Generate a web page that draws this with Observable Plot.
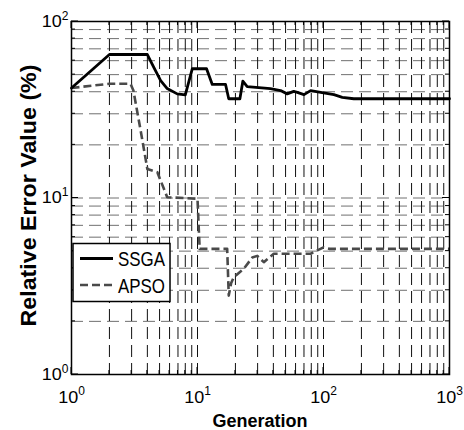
<!DOCTYPE html>
<html><head><meta charset="utf-8">
<script src="https://cdn.jsdelivr.net/npm/d3@7"></script>
<script src="https://cdn.jsdelivr.net/npm/@observablehq/plot@0.6"></script>
<style>body{margin:0;background:#fff;} #chart{width:464px;height:430px;}</style>
</head><body><div id="chart"></div>
<script>
// ---- data ----
const ssgaGen = [1, 2, 4, 4.5, 5.1, 5.75, 6.9, 8.0, 9.1, 11.8, 13.1, 16.7, 17.7, 21.7, 22.9, 24.8, 37.9, 45.6, 51.5, 58.1, 62, 70, 79, 95, 121, 141, 174, 1000];
const ssgaErr = [42, 65, 65, 55, 46.3, 41.7, 38.9, 38.4, 54, 54, 44, 44, 36.5, 36.5, 45.9, 42.8, 41.6, 40.6, 38.9, 40.2, 39.7, 38.5, 40.6, 39.7, 38.5, 37.2, 36.5, 36.5];
const apsoGen = [1, 2, 2.94, 3.1, 3.5, 4.0, 4.8, 5.75, 10, 10.4, 17.2, 17.7, 18.5, 19.4, 23.3, 27.2, 29.8, 33.6, 40.3, 79, 100, 112, 1000];
const apsoErr = [42, 44.4, 44.4, 40.6, 25.2, 14.6, 14.0, 10.1, 9.9, 5.15, 5.15, 2.8, 3.3, 3.56, 3.97, 4.6, 4.7, 4.33, 4.83, 4.83, 5.25, 5.15, 5.15];
const seriesNames = ["SSGA", "APSO"];
const xTickValues = [1, 10, 100, 1000];
const xTickExp = ["0", "1", "2", "3"];
const yTickValues = [1, 10, 100];
const yTickExp = ["0", "1", "2"];
const xGrid = [1,2,3,4,5,6,7,8,9,10,20,30,40,50,60,70,80,90,100,200,300,400,500,600,700,800,900,1000];
const yGrid = [1,2,3,4,5,6,7,8,9,10,20,30,40,50,60,70,80,90,100];
const xTitle = "Generation";
const yTitle = "Relative Error Value (%)";

const ssga = ssgaGen.map((g, i) => ({gen: g, err: ssgaErr[i]}));
const apso = apsoGen.map((g, i) => ({gen: g, err: apsoErr[i]}));
const xLab = new Map(xTickValues.map((v, i) => [v, "10^" + xTickExp[i]]));
const yLab = new Map(yTickValues.map((v, i) => [v, "10^" + yTickExp[i]]));
const FONT = "'Liberation Sans', Arial, sans-serif";

const plot = Plot.plot({
  width: 464, height: 430,
  marginTop: 21, marginRight: 15, marginBottom: 56, marginLeft: 71,
  x: {type: "log", domain: [1, 1000]},
  y: {type: "log", domain: [1, 100]},
  style: {fontFamily: FONT, fontSize: "17px", background: "#fff", color: "#000", overflow: "visible"},
  marks: [
    Plot.ruleY(yGrid.slice(1, -1), {y: d => d, stroke: "#707070", strokeWidth: 1, strokeDasharray: "12,6"}),
    Plot.ruleX(xGrid.slice(1, -1), {x: d => d, stroke: "#111", strokeWidth: 1, strokeDasharray: "12,6"}),
    Plot.line(apso, {x: "gen", y: "err", stroke: "#4a4a4a", strokeWidth: 2.6, strokeDasharray: "8,4", strokeLinejoin: "round", strokeLinecap: "butt"}),
    Plot.line(ssga, {x: "gen", y: "err", stroke: "#000", strokeWidth: 2.8, strokeLinejoin: "round"}),
    Plot.frame({stroke: "#000", strokeWidth: 1.5}),
    Plot.axisX(xTickValues, {anchor: "bottom", tickSize: 0, tickPadding: 16, tickFormat: d => xLab.get(d), label: null}),
    Plot.axisY(yTickValues, {anchor: "left", tickSize: 0, tickPadding: 3, tickFormat: d => yLab.get(d), label: null})
  ]
});
document.getElementById("chart").appendChild(plot);

const svg = d3.select(plot);
const sx = v => plot.scale("x").apply(v);
const sy = v => plot.scale("y").apply(v);
const [x0, x1] = [sx(1), sx(1000)];
const [y0, y1] = [sy(100), sy(1)];

// superscript exponents, tick label font
svg.selectAll('g[aria-label="x-axis tick label"], g[aria-label="y-axis tick label"]')
  .attr("font-size", 17).style("font-size", "17px").attr("font-family", FONT);
svg.selectAll('g[aria-label="x-axis tick label"] text, g[aria-label="y-axis tick label"] text').each(function () {
  const s = this.textContent;
  const [base, exp] = s.split("^");
  const t = d3.select(this);
  t.selectAll("*").remove();
  t.text(null);
  t.style("font-size", "17px");
  t.append("tspan").attr("textLength", 20).attr("lengthAdjust", "spacingAndGlyphs").text(base);
  t.append("tspan").attr("dy", "-0.6em").style("font-size", "12px").text(exp);
});

// inward ticks on all four sides
const tg = svg.append("g").attr("stroke", "#000").attr("stroke-width", 1);
xGrid.forEach(v => {
  const len = xTickValues.includes(v) ? 7 : 4;
  const X = sx(v);
  tg.append("line").attr("x1", X).attr("x2", X).attr("y1", y1).attr("y2", y1 - len);
  tg.append("line").attr("x1", X).attr("x2", X).attr("y1", y0).attr("y2", y0 + len);
});
yGrid.forEach(v => {
  const len = yTickValues.includes(v) ? 7 : 4;
  const Y = sy(v);
  tg.append("line").attr("y1", Y).attr("y2", Y).attr("x1", x0).attr("x2", x0 + len);
  tg.append("line").attr("y1", Y).attr("y2", Y).attr("x1", x1).attr("x2", x1 - len);
});

// axis titles
svg.append("text").attr("x", (x0 + x1) / 2).attr("y", 427).attr("text-anchor", "middle")
  .attr("font-weight", "bold").style("font-size", "18px").attr("textLength", 95).attr("lengthAdjust", "spacingAndGlyphs")
  .attr("font-family", FONT).text(xTitle);
svg.append("text").attr("transform", `translate(36,${(y0 + y1) / 2 - 2}) rotate(-90)`).attr("text-anchor", "middle")
  .attr("font-weight", "bold").style("font-size", "22px").attr("textLength", 262).attr("lengthAdjust", "spacingAndGlyphs")
  .attr("font-family", FONT).text(yTitle);

// legend
const lg = svg.append("g");
lg.append("rect").attr("x", 73).attr("y", 243.5).attr("width", 97).attr("height", 58)
  .attr("fill", "#fff").attr("stroke", "#000").attr("stroke-width", 1.5);
const styles = [{stroke: "#000", dash: null, w: 2.8}, {stroke: "#4a4a4a", dash: "8,4", w: 2.6}];
seriesNames.forEach((name, i) => {
  const cy = 258.5 + i * 26.5;
  lg.append("line").attr("x1", 80).attr("x2", 113).attr("y1", cy).attr("y2", cy)
    .attr("stroke", styles[i].stroke).attr("stroke-width", styles[i].w).attr("stroke-dasharray", styles[i].dash);
  lg.append("text").attr("x", 118).attr("y", cy + 7.5).attr("text-anchor", "start").style("font-size", "20px")
    .attr("textLength", 47).attr("lengthAdjust", "spacingAndGlyphs").attr("font-family", FONT).text(name);
});
</script></body></html>
